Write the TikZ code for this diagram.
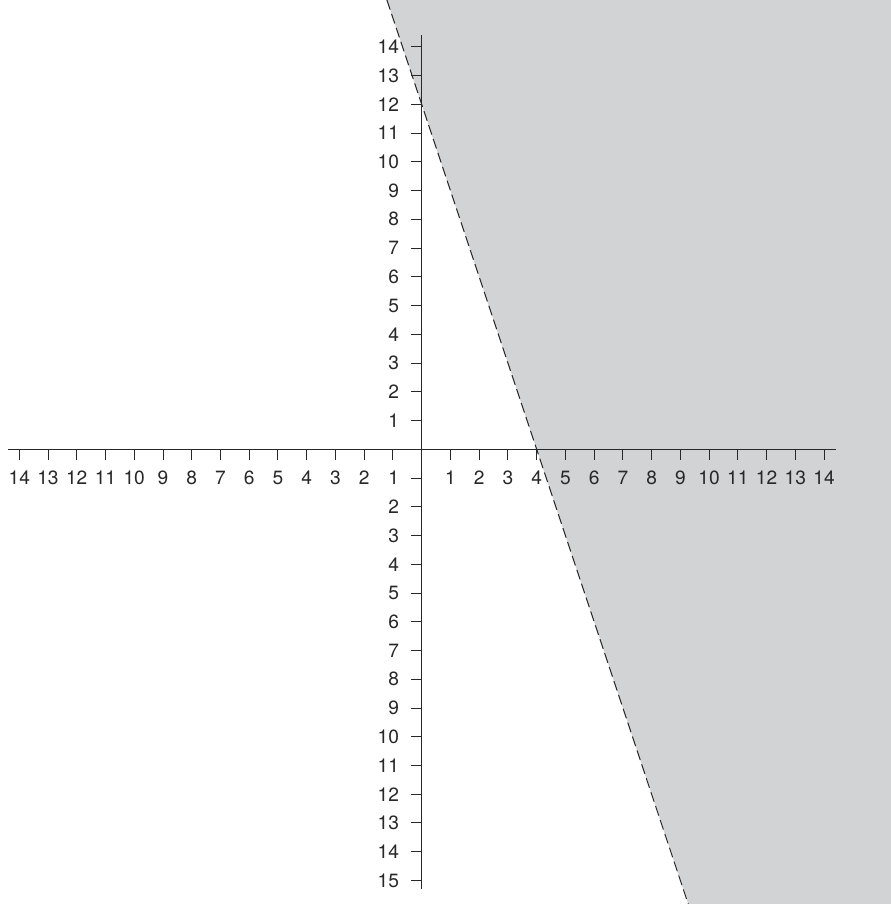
\documentclass[tikz,border=0pt]{standalone}
\usepackage{fontspec}
\setmainfont{TeX Gyre Heros}
\usetikzlibrary{calc}
\definecolor{regiongray}{RGB}{209,211,213}
\definecolor{inkgray}{RGB}{40,40,40}

\begin{document}
\begin{tikzpicture}[
  axisline/.style={line width=0.9pt, inkgray},
  tickmark/.style={line width=0.9pt, inkgray},
  num/.style={inner sep=0pt, text=inkgray, font=\fontsize{19}{22}\selectfont},
  boundary/.style={line width=1pt, inkgray, dash pattern=on 10pt off 4.5pt}
]
  \useasboundingbox (-14.67,-15.82) rectangle (16.32,15.63);

  % boundary line 3x + y = 12
  \coordinate (T) at (-1.21,15.63);
  \coordinate (B) at (9.273,-15.82);
  \coordinate (TR) at (16.32,15.63);
  \coordinate (BR) at (16.32,-15.82);
  \fill[regiongray] (T) -- (TR) -- (BR) -- (B) -- cycle;

  % axes
  \coordinate (xmin) at (-14.4,0);
  \coordinate (xmax) at (14.42,0);
  \coordinate (ymin) at (0,-15.3);
  \coordinate (ymax) at (0,14.4);
  \draw[axisline] (xmin) -- (xmax);
  \draw[axisline] (ymin) -- (ymax);

  % ticks and numbers on the x-axis
  \foreach \i in {1,...,14} {
    \draw[tickmark] (\i,0) -- ++(0,-0.38);
    \draw[tickmark] (-\i,0) -- ++(0,-0.38);
    \node[num, anchor=base] (xp\i) at (\i,-1.21) {\i};
  }
  \foreach \i in {2,...,14}
    \node[num, anchor=base] (xn\i) at (-\i,-1.21) {\i};

  % ticks and numbers on the y-axis
  \foreach \i in {1,...,14} {
    \draw[tickmark] (0,\i) -- ++(-0.38,0);
    \node[num, anchor=east] (yp\i) at (-0.78,\i) {\i};
  }
  \foreach \i in {1,...,15} {
    \draw[tickmark] (0,-\i) -- ++(-0.38,0);
    \node[num, anchor=east] (yn\i) at (-0.78,-\i) {\i};
  }

  \draw[boundary] (T) -- (B);
\end{tikzpicture}
\end{document}
